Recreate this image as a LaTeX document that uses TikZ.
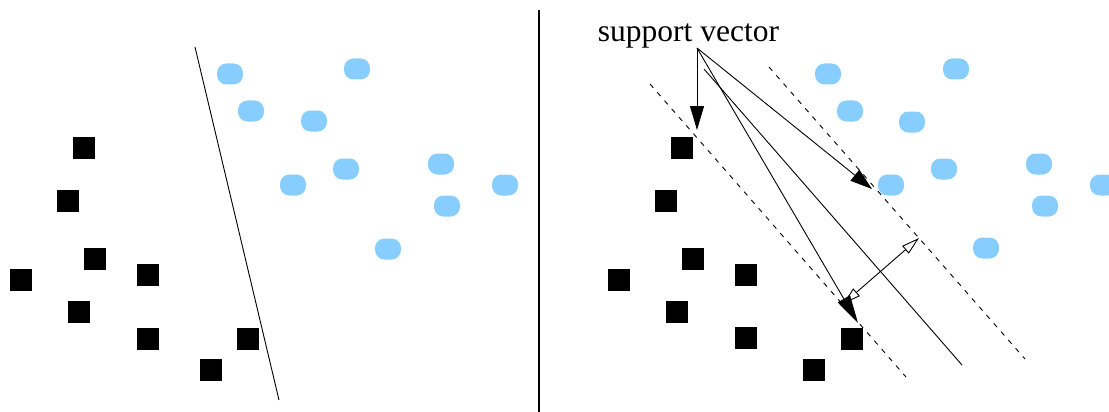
\documentclass[tikz,border=0pt]{standalone}
\usepackage{fontspec}
\setmainfont{Liberation Serif}
\usetikzlibrary{arrows.meta}
\definecolor{ltblue}{RGB}{135,206,255}
\tikzset{
  sq/.style={fill=black,draw=none,minimum size=22pt,inner sep=0pt,outer sep=0pt},
  dot/.style={fill=ltblue,draw=none,rounded corners=9.5pt,minimum width=26pt,minimum height=21pt,inner sep=0pt,outer sep=0pt},
  ln/.style={line width=0.9pt},
  dsh/.style={line width=0.9pt,dash pattern=on 5pt off 6pt},
  fillarr/.style={ln,-{Triangle[length=#1,width=14pt]}},
  openarr/.style={ln,{Triangle[open,length=18pt,width=10pt]}-{Triangle[open,length=18pt,width=10pt]}}
}
\begin{document}
\begin{tikzpicture}[x=1pt,y=-1pt]
\useasboundingbox (0,0) rectangle (1109,412);
\clip (0,0) rectangle (1109,412);
% ---------- left panel ----------
\foreach \n/\x/\y in {1/84/148,2/68/201,3/95/259,4/21/280,5/148/275,6/79/312,7/148/339,8/248/339,9/211/370}
  \node[sq] (ls\n) at (\x,\y) {};
\foreach \n/\x/\y in {1/230/74,2/251/111,3/357/69,4/314/121,5/346/169,6/293/185,7/441/164,8/447/206,9/505/185,10/388/249}
  \node[dot] (lc\n) at (\x,\y) {};
\coordinate (la) at (195,47);
\coordinate (lb) at (279,400);
\draw[ln] (la) -- (lb);
% ---------- divider ----------
\coordinate (da) at (539,10);
\coordinate (db) at (539,412);
\draw[line width=1.2pt] (da) -- (db);
% ---------- right panel ----------
\foreach \n/\x/\y in {1/682/148,2/666/201,3/693/259,4/619/280,5/746/275,6/677/312,7/746/338,8/852/339,9/814/370}
  \node[sq] (rs\n) at (\x,\y) {};
\foreach \n/\x/\y in {1/828/74,2/850/111,3/956/69,4/912/122,5/944/169,6/891/185,7/1039/164,8/1045/206,9/1103/185,10/986/248}
  \node[dot] (rc\n) at (\x,\y) {};
% hyperplane and margins
\coordinate (h1) at (704,69);
\coordinate (h2) at (962,365);
\coordinate (m1a) at (650,84);
\coordinate (m1b) at (906,377);
\coordinate (m2a) at (769,67);
\coordinate (m2b) at (1025,359);
\draw[ln] (h1) -- (h2);
\draw[dsh] (m1a) -- (m1b);
\draw[dsh] (m2a) -- (m2b);
% margin width arrow
\coordinate (w1) at (843,304);
\coordinate (w2) at (919,238);
\draw[openarr] (w1) -- (w2);
% label and pointers
\node[font=\fontsize{31.5}{36}\selectfont,anchor=base,inner sep=0pt] (lbl) at (688.5,42) {support vector};
\coordinate (apex) at (697,48);
\coordinate (t1) at (697,130);
\coordinate (t2) at (872,189);
\coordinate (t3) at (858,323);
\draw[fillarr=24pt] (apex) -- (t1);
\draw[fillarr=22pt] (apex) -- (t2);
\draw[fillarr=28pt] (apex) -- (t3);
\end{tikzpicture}
\end{document}
